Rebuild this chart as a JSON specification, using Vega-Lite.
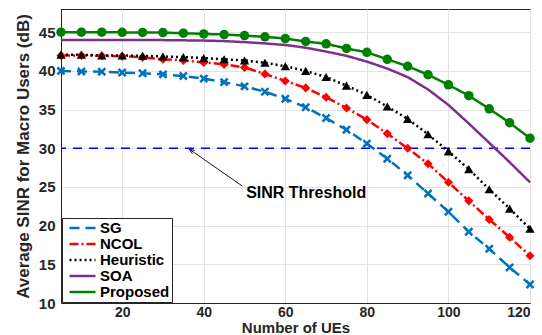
{
  "$schema": "https://vega.github.io/schema/vega-lite/v6.json",
  "width": 469,
  "height": 294,
  "autosize": {"type": "none"},
  "padding": {"left": 61, "top": 9, "right": 12, "bottom": 32},
  "background": "white",
  "config": {
    "font": "Liberation Sans",
    "view": {"stroke": "#262626", "strokeWidth": 1},
    "axis": {
      "labelFont": "Liberation Sans",
      "labelFontWeight": "bold",
      "labelFontSize": 15,
      "labelColor": "#262626",
      "titleFont": "Liberation Sans",
      "titleFontWeight": "bold",
      "titleColor": "#262626",
      "gridColor": "#E3E3E3",
      "gridWidth": 1,
      "domainColor": "#262626",
      "ticks": false
    }
  },
  "datasets": {
    "curves": [
      {"series": "SG", "n": 5, "sinr": 40.0}, {"series": "SG", "n": 10, "sinr": 39.93}, {"series": "SG", "n": 15, "sinr": 39.9}, {"series": "SG", "n": 20, "sinr": 39.78}, {"series": "SG", "n": 25, "sinr": 39.7},
      {"series": "SG", "n": 30, "sinr": 39.55}, {"series": "SG", "n": 35, "sinr": 39.35}, {"series": "SG", "n": 40, "sinr": 39.0}, {"series": "SG", "n": 45, "sinr": 38.55}, {"series": "SG", "n": 50, "sinr": 38.0},
      {"series": "SG", "n": 55, "sinr": 37.3}, {"series": "SG", "n": 60, "sinr": 36.4}, {"series": "SG", "n": 65, "sinr": 35.3}, {"series": "SG", "n": 70, "sinr": 33.9}, {"series": "SG", "n": 75, "sinr": 32.4},
      {"series": "SG", "n": 80, "sinr": 30.6}, {"series": "SG", "n": 85, "sinr": 28.65}, {"series": "SG", "n": 90, "sinr": 26.5}, {"series": "SG", "n": 95, "sinr": 24.15}, {"series": "SG", "n": 100, "sinr": 21.8},
      {"series": "SG", "n": 105, "sinr": 19.2}, {"series": "SG", "n": 110, "sinr": 17.0}, {"series": "SG", "n": 115, "sinr": 14.6}, {"series": "SG", "n": 120, "sinr": 12.4},

      {"series": "NCOL", "n": 5, "sinr": 42.0}, {"series": "NCOL", "n": 10, "sinr": 42.0}, {"series": "NCOL", "n": 15, "sinr": 41.95}, {"series": "NCOL", "n": 20, "sinr": 41.9}, {"series": "NCOL", "n": 25, "sinr": 41.75},
      {"series": "NCOL", "n": 30, "sinr": 41.5}, {"series": "NCOL", "n": 35, "sinr": 41.35}, {"series": "NCOL", "n": 40, "sinr": 41.1}, {"series": "NCOL", "n": 45, "sinr": 40.85}, {"series": "NCOL", "n": 50, "sinr": 40.45},
      {"series": "NCOL", "n": 55, "sinr": 39.6}, {"series": "NCOL", "n": 60, "sinr": 38.7}, {"series": "NCOL", "n": 65, "sinr": 37.8}, {"series": "NCOL", "n": 70, "sinr": 36.6}, {"series": "NCOL", "n": 75, "sinr": 35.2},
      {"series": "NCOL", "n": 80, "sinr": 33.7}, {"series": "NCOL", "n": 85, "sinr": 31.9}, {"series": "NCOL", "n": 90, "sinr": 30.0}, {"series": "NCOL", "n": 95, "sinr": 28.0}, {"series": "NCOL", "n": 100, "sinr": 25.6},
      {"series": "NCOL", "n": 105, "sinr": 23.2}, {"series": "NCOL", "n": 110, "sinr": 20.8}, {"series": "NCOL", "n": 115, "sinr": 18.5}, {"series": "NCOL", "n": 120, "sinr": 16.1},

      {"series": "Heuristic", "n": 5, "sinr": 42.08}, {"series": "Heuristic", "n": 10, "sinr": 42.08}, {"series": "Heuristic", "n": 15, "sinr": 42.0}, {"series": "Heuristic", "n": 20, "sinr": 42.0}, {"series": "Heuristic", "n": 25, "sinr": 41.95},
      {"series": "Heuristic", "n": 30, "sinr": 41.86}, {"series": "Heuristic", "n": 35, "sinr": 41.78}, {"series": "Heuristic", "n": 40, "sinr": 41.65}, {"series": "Heuristic", "n": 45, "sinr": 41.5}, {"series": "Heuristic", "n": 50, "sinr": 41.35},
      {"series": "Heuristic", "n": 55, "sinr": 41.05}, {"series": "Heuristic", "n": 60, "sinr": 40.6}, {"series": "Heuristic", "n": 65, "sinr": 40.0}, {"series": "Heuristic", "n": 70, "sinr": 39.2}, {"series": "Heuristic", "n": 75, "sinr": 38.1},
      {"series": "Heuristic", "n": 80, "sinr": 36.9}, {"series": "Heuristic", "n": 85, "sinr": 35.4}, {"series": "Heuristic", "n": 90, "sinr": 33.8}, {"series": "Heuristic", "n": 95, "sinr": 31.8}, {"series": "Heuristic", "n": 100, "sinr": 29.6},
      {"series": "Heuristic", "n": 105, "sinr": 27.3}, {"series": "Heuristic", "n": 110, "sinr": 24.7}, {"series": "Heuristic", "n": 115, "sinr": 22.2}, {"series": "Heuristic", "n": 120, "sinr": 19.6},

      {"series": "SOA", "n": 5, "sinr": 44.0}, {"series": "SOA", "n": 10, "sinr": 44.0}, {"series": "SOA", "n": 15, "sinr": 44.0}, {"series": "SOA", "n": 20, "sinr": 44.0}, {"series": "SOA", "n": 25, "sinr": 44.0},
      {"series": "SOA", "n": 30, "sinr": 43.98}, {"series": "SOA", "n": 35, "sinr": 43.95}, {"series": "SOA", "n": 40, "sinr": 43.92}, {"series": "SOA", "n": 45, "sinr": 43.85}, {"series": "SOA", "n": 50, "sinr": 43.72},
      {"series": "SOA", "n": 55, "sinr": 43.55}, {"series": "SOA", "n": 60, "sinr": 43.35}, {"series": "SOA", "n": 65, "sinr": 43.0}, {"series": "SOA", "n": 70, "sinr": 42.5}, {"series": "SOA", "n": 75, "sinr": 41.95},
      {"series": "SOA", "n": 80, "sinr": 41.2}, {"series": "SOA", "n": 85, "sinr": 40.3}, {"series": "SOA", "n": 90, "sinr": 39.2}, {"series": "SOA", "n": 95, "sinr": 37.6}, {"series": "SOA", "n": 100, "sinr": 35.6},
      {"series": "SOA", "n": 105, "sinr": 33.2}, {"series": "SOA", "n": 110, "sinr": 30.7}, {"series": "SOA", "n": 115, "sinr": 28.2}, {"series": "SOA", "n": 120, "sinr": 25.6},

      {"series": "Proposed", "n": 5, "sinr": 45.0}, {"series": "Proposed", "n": 10, "sinr": 45.0}, {"series": "Proposed", "n": 15, "sinr": 45.0}, {"series": "Proposed", "n": 20, "sinr": 44.98}, {"series": "Proposed", "n": 25, "sinr": 44.97},
      {"series": "Proposed", "n": 30, "sinr": 44.95}, {"series": "Proposed", "n": 35, "sinr": 44.87}, {"series": "Proposed", "n": 40, "sinr": 44.78}, {"series": "Proposed", "n": 45, "sinr": 44.7}, {"series": "Proposed", "n": 50, "sinr": 44.56},
      {"series": "Proposed", "n": 55, "sinr": 44.4}, {"series": "Proposed", "n": 60, "sinr": 44.18}, {"series": "Proposed", "n": 65, "sinr": 43.8}, {"series": "Proposed", "n": 70, "sinr": 43.5}, {"series": "Proposed", "n": 75, "sinr": 42.9},
      {"series": "Proposed", "n": 80, "sinr": 42.4}, {"series": "Proposed", "n": 85, "sinr": 41.5}, {"series": "Proposed", "n": 90, "sinr": 40.6}, {"series": "Proposed", "n": 95, "sinr": 39.5}, {"series": "Proposed", "n": 100, "sinr": 38.2},
      {"series": "Proposed", "n": 105, "sinr": 36.8}, {"series": "Proposed", "n": 110, "sinr": 35.1}, {"series": "Proposed", "n": 115, "sinr": 33.3}, {"series": "Proposed", "n": 120, "sinr": 31.3}
    ],
    "annotation": [
      {"label": "SINR Threshold", "tx": 50.4, "ty": 24.2, "x1": 49.5, "y1": 25.1, "x2": 36.4, "y2": 29.9, "threshold": 30}
    ]
  },
  "layer": [
    {
      "data": {"name": "annotation"},
      "mark": {"type": "rule", "color": "#0000FF", "strokeWidth": 1.6, "strokeDash": [9, 7]},
      "encoding": {"y": {"field": "threshold", "type": "quantitative"}}
    },
    {
      "data": {"name": "curves"},
      "mark": {"type": "line", "strokeWidth": 2.5},
      "encoding": {
        "x": {
          "field": "n", "type": "quantitative",
          "scale": {"domain": [5, 120], "nice": false, "zero": false},
          "axis": {"values": [20, 40, 60, 80, 100, 120], "title": "Number of UEs", "titleFontSize": 15, "labelFontSize": 14, "labelPadding": 2, "titlePadding": 1}
        },
        "y": {
          "field": "sinr", "type": "quantitative",
          "scale": {"domain": [10, 48], "nice": false, "zero": false},
          "axis": {"values": [10, 15, 20, 25, 30, 35, 40, 45], "title": "Average SINR for Macro Users (dB)", "titleFontSize": 17, "labelPadding": 6, "titlePadding": 6}
        },
        "color": {
          "field": "series", "type": "nominal",
          "scale": {"domain": ["SG", "NCOL", "Heuristic", "SOA", "Proposed"], "range": ["#0072BD", "#FF0000", "#000000", "#7E2F8E", "#008000"]},
          "legend": {
            "title": null,
            "orient": "bottom-left",
            "offset": 1,
            "fillColor": "white",
            "strokeColor": "#262626",
            "padding": 2,
            "symbolType": "M-1,0L3,0",
            "symbolSize": 169,
            "symbolStrokeWidth": 2.5,
            "symbolOffset": 4,
            "labelOffset": 16,
            "labelFont": "Liberation Sans",
            "labelFontWeight": "bold",
            "labelFontSize": 15,
            "labelColor": "#000000",
            "rowPadding": 0
          }
        },
        "strokeDash": {
          "field": "series", "type": "nominal",
          "scale": {"domain": ["SG", "NCOL", "Heuristic", "SOA", "Proposed"], "range": [[10, 6], [9, 3, 2, 3], [2, 3], [1, 0], [1, 0]]},
          "legend": {
            "title": null,
            "orient": "bottom-left",
            "offset": 1,
            "fillColor": "white",
            "strokeColor": "#262626",
            "padding": 2,
            "symbolType": "M-1,0L3,0",
            "symbolSize": 169,
            "symbolStrokeWidth": 2.5,
            "symbolOffset": 4,
            "labelOffset": 16,
            "labelFont": "Liberation Sans",
            "labelFontWeight": "bold",
            "labelFontSize": 15,
            "labelColor": "#000000",
            "rowPadding": 0
          }
        }
      }
    },
    {
      "data": {"name": "curves"},
      "transform": [{"filter": "datum.series !== 'SOA'"}],
      "mark": {"type": "point", "filled": true, "opacity": 1},
      "encoding": {
        "x": {"field": "n", "type": "quantitative"},
        "y": {"field": "sinr", "type": "quantitative"},
        "color": {"field": "series", "type": "nominal"},
        "shape": {
          "field": "series", "type": "nominal",
          "scale": {"domain": ["SG", "NCOL", "Heuristic", "Proposed"], "range": ["M-1,-0.6L-0.6,-1L0,-0.4L0.6,-1L1,-0.6L0.4,0L1,0.6L0.6,1L0,0.4L-0.6,1L-1,0.6L-0.4,0Z", "diamond", "triangle-up", "circle"]},
          "legend": null
        },
        "size": {
          "field": "series", "type": "nominal",
          "scale": {"domain": ["SG", "NCOL", "Heuristic", "Proposed"], "range": [80, 90, 100, 40]},
          "legend": null
        }
      }
    },
    {
      "data": {"name": "annotation"},
      "mark": {"type": "rule", "color": "#000000", "strokeWidth": 0.9},
      "encoding": {
        "x": {"field": "x1", "type": "quantitative"},
        "y": {"field": "y1", "type": "quantitative"},
        "x2": {"field": "x2"},
        "y2": {"field": "y2"}
      }
    },
    {
      "data": {"name": "annotation"},
      "mark": {"type": "point", "shape": "M-0.35,1L0,0L0.35,1", "filled": false, "stroke": "#000000", "strokeWidth": 0.9, "size": 120, "angle": 304.5, "opacity": 1},
      "encoding": {
        "x": {"field": "x2", "type": "quantitative"},
        "y": {"field": "y2", "type": "quantitative"}
      }
    },
    {
      "data": {"name": "annotation"},
      "mark": {"type": "text", "align": "left", "baseline": "middle", "font": "Liberation Sans", "fontWeight": "bold", "fontSize": 16, "color": "#000000"},
      "encoding": {
        "x": {"field": "tx", "type": "quantitative"},
        "y": {"field": "ty", "type": "quantitative"},
        "text": {"field": "label"}
      }
    }
  ]
}
